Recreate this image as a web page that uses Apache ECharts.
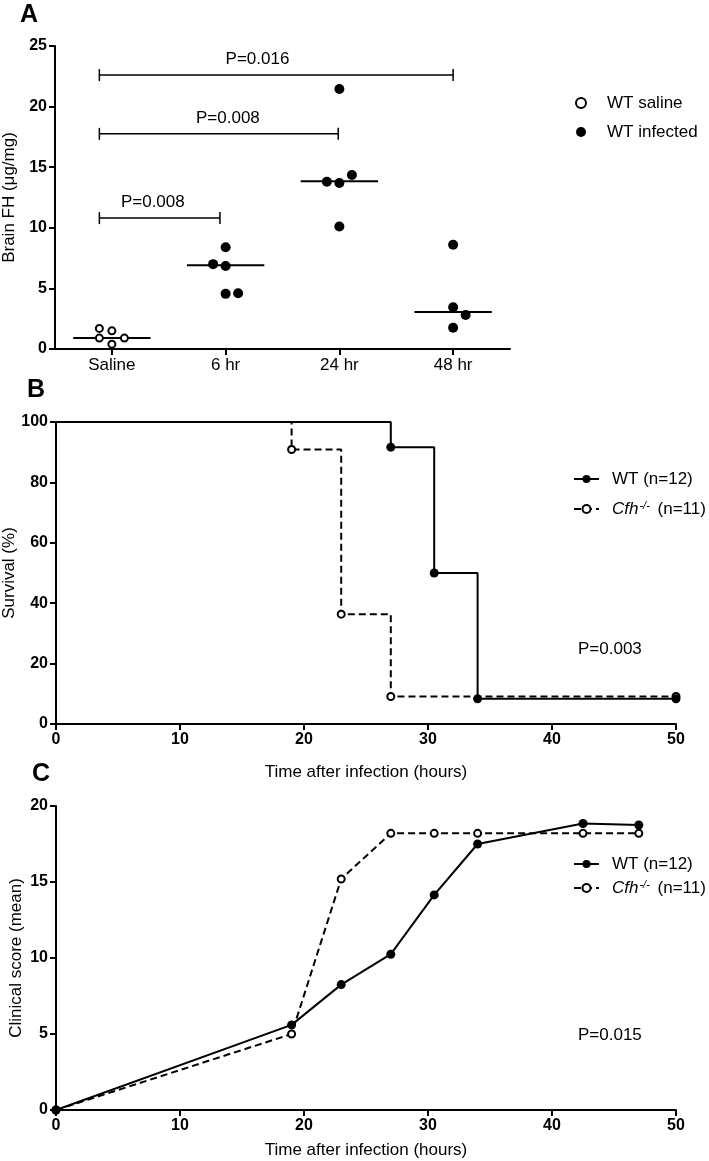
<!DOCTYPE html>
<html>
<head>
<meta charset="utf-8">
<script src="https://cdn.jsdelivr.net/npm/echarts@6/dist/echarts.min.js"></script>
<style>
  html, body { margin: 0; padding: 0; background: #fff; }
  #chart { width: 709px; height: 1161px; }
</style>
</head>
<body>
<div id="chart"></div>
<script>
// ---------- Panel A data ----------
const categoriesA = ['Saline', '6 hr', '24 hr', '48 hr'];
const salineValues = [1.7, 1.5, 0.9, 0.9, 0.4];
const salineJitter = [-0.11, 0, -0.11, 0.11, 0];
const inf6Values = [8.4, 7.0, 6.85, 4.55, 4.6];
const inf6Jitter = [0, -0.11, 0, 0, 0.11];
const inf24Values = [21.45, 13.8, 13.7, 14.35, 10.1];
const inf24Jitter = [0, -0.11, 0, 0.11, 0];
const inf48Values = [8.6, 3.45, 2.8, 1.75];
const inf48Jitter = [0, 0, 0.11, 0];
const mediansA = [0.9, 6.9, 13.85, 3.05];
const bracketStart = [-0.11, -0.11, -0.11];
const bracketEnd = [0.95, 1.99, 3.0];
const bracketY = [10.8, 17.75, 22.6];
const bracketLabelX = [0.36, 1.02, 1.28];
const bracketLabels = ['P=0.008', 'P=0.008', 'P=0.016'];

// ---------- Panel B data (survival) ----------
const wtSurvTime = [0, 27, 30.5, 34, 50];
const wtSurv = [100, 91.67, 50, 8.33, 8.33];
const cfhSurvTime = [0, 19, 23, 27, 50];
const cfhSurv = [100, 90.91, 36.36, 9.09, 9.09];

// ---------- Panel C data (clinical score) ----------
const scoreTime = [0, 19, 23, 27, 30.5, 34, 42.5, 47];
const wtScore = [0, 5.6, 8.25, 10.25, 14.15, 17.5, 18.85, 18.75];
const cfhScore = [0, 5.0, 15.2, 18.2, 18.2, 18.2, 18.2, 18.2];

const FONT = "'Liberation Sans', Arial, sans-serif";

const chart = echarts.init(document.getElementById('chart'), null, { renderer: 'canvas' });

function axisBase() {
  return {
    nameMoveOverlap: false,
    axisLine: { show: true, onZero: false, lineStyle: { color: '#000', width: 2 } },
    axisTick: { show: true, length: 6, lineStyle: { color: '#000', width: 2 } },
    axisLabel: { color: '#000', fontFamily: FONT, fontWeight: 'bold', fontSize: 16, margin: 8 },
    splitLine: { show: false },
    nameTextStyle: { color: '#000', fontFamily: FONT, fontSize: 17 }
  };
}

const jitterPts = (vals, jit, cat) => vals.map((v, i) => [cat + jit[i], v]);

const openItem = { color: '#fff', borderColor: '#000', borderWidth: 2, opacity: 1 };
const fillItem = { color: '#000', opacity: 1 };

const survData = (ts, ss) => ts.map((t, i) => i === 0 ? { value: [t, ss[i]], symbol: 'none' } : [t, ss[i]]);

function legendFmt(name) {
  if (name.indexOf('Cfh') === 0) return '{i|Cfh}{s|-/-}{n| (n=11)}';
  return '{n|WT (n=12)}';
}
function legendText() {
  return {
    color: '#000', fontFamily: FONT, fontSize: 17, lineHeight: 18, padding: [0, 0, 0, 8],
    rich: {
      n: { fontSize: 17, fontFamily: FONT, color: '#000', lineHeight: 18 },
      i: { fontStyle: 'italic', fontSize: 17, fontFamily: FONT, color: '#000', lineHeight: 18 },
      s: { fontStyle: 'italic', fontSize: 11, fontFamily: FONT, color: '#000', lineHeight: 11, verticalAlign: 'top', padding: [0, 3, 0, 1] }
    }
  };
}

const gridCommon = { containLabel: false, outerBoundsMode: 'none' };

const option = {
  animation: false,
  backgroundColor: '#fff',
  textStyle: { fontFamily: FONT },
  grid: [
    Object.assign({ left: 55, top: 46, width: 455, height: 303 }, gridCommon),
    Object.assign({ left: 56, top: 422, width: 620, height: 302 }, gridCommon),
    Object.assign({ left: 56, top: 806, width: 620, height: 304 }, gridCommon)
  ],
  xAxis: [
    Object.assign(axisBase(), {
      gridIndex: 0, type: 'value', min: -0.5, max: 3.5,
      axisTick: { show: true, length: 6, customValues: [0, 1, 2, 3], lineStyle: { color: '#000', width: 2 } },
      axisLabel: { customValues: [0, 1, 2, 3], color: '#000', fontFamily: FONT, fontSize: 17, margin: 8,
        formatter: v => categoriesA[Math.round(v)] }
    }),
    Object.assign(axisBase(), {
      gridIndex: 1, type: 'value', min: 0, max: 50, interval: 10,
      name: 'Time after infection (hours)', nameLocation: 'middle', nameGap: 40
    }),
    Object.assign(axisBase(), {
      gridIndex: 2, type: 'value', min: 0, max: 50, interval: 10,
      name: 'Time after infection (hours)', nameLocation: 'middle', nameGap: 32
    })
  ],
  yAxis: [
    Object.assign(axisBase(), {
      gridIndex: 0, type: 'value', min: 0, max: 25, interval: 5,
      name: 'Brain FH (μg/mg)', nameLocation: 'middle', nameGap: 37
    }),
    Object.assign(axisBase(), {
      gridIndex: 1, type: 'value', min: 0, max: 100, interval: 20,
      name: 'Survival (%)', nameLocation: 'middle', nameGap: 38
    }),
    Object.assign(axisBase(), {
      gridIndex: 2, type: 'value', min: 0, max: 20, interval: 5,
      name: 'Clinical score (mean)', nameLocation: 'middle', nameGap: 31
    })
  ],
  legend: [
    {
      data: ['WT saline', 'WT infected'], orient: 'vertical', left: 575, top: 94, padding: 0,
      itemWidth: 42, itemHeight: 10, itemGap: 11,
      textStyle: { color: '#000', fontFamily: FONT, fontSize: 17, lineHeight: 18 }
    },
    {
      data: ['WT (n=12)', 'Cfh (n=11)'], orient: 'vertical', left: 573, top: 470, padding: 0,
      itemWidth: 25, itemHeight: 10, itemGap: 12,
      formatter: legendFmt,
      textStyle: legendText()
    },
    {
      data: ['WT (n=12) ', 'Cfh (n=11) '], orient: 'vertical', left: 573, top: 855, padding: 0,
      itemWidth: 25, itemHeight: 10, itemGap: 6,
      formatter: legendFmt,
      textStyle: legendText()
    }
  ],
  graphic: [
    { type: 'text', left: 20, top: 3, style: { text: 'A', font: "bold 25px " + FONT, fill: '#000' } },
    { type: 'text', left: 27, top: 378, style: { text: 'B', font: "bold 25px " + FONT, fill: '#000' } },
    { type: 'text', left: 32, top: 762, style: { text: 'C', font: "bold 25px " + FONT, fill: '#000' } },
    { type: 'text', left: 578, top: 641, style: { text: 'P=0.003', font: "17px " + FONT, fill: '#000' } },
    { type: 'text', left: 578, top: 1027, style: { text: 'P=0.015', font: "17px " + FONT, fill: '#000' } }
  ],
  series: [
    // Panel A
    {
      name: 'WT saline', type: 'scatter', xAxisIndex: 0, yAxisIndex: 0,
      symbol: 'circle', symbolSize: 7, itemStyle: openItem,
      data: jitterPts(salineValues, salineJitter, 0), z: 5
    },
    {
      name: 'WT infected', type: 'scatter', xAxisIndex: 0, yAxisIndex: 0,
      symbol: 'circle', symbolSize: 10, itemStyle: fillItem,
      data: [].concat(jitterPts(inf6Values, inf6Jitter, 1), jitterPts(inf24Values, inf24Jitter, 2), jitterPts(inf48Values, inf48Jitter, 3)),
      z: 5
    },
    ...mediansA.map((m, i) => ({
      type: 'line', xAxisIndex: 0, yAxisIndex: 0, symbol: 'none', silent: true,
      lineStyle: { color: '#000', width: 2 },
      data: [[i - 0.34, m], [i + 0.34, m]], z: 4
    })),
    {
      type: 'custom', xAxisIndex: 0, yAxisIndex: 0, silent: true,
      data: bracketStart.map((s, i) => [s, bracketEnd[i], bracketY[i], bracketLabelX[i]]),
      encode: { x: [0, 1, 3], y: 2 },
      renderItem: (params, api) => {
        const p1 = api.coord([api.value(0), api.value(2)]);
        const p2 = api.coord([api.value(1), api.value(2)]);
        const pl = api.coord([api.value(3), api.value(2)]);
        const st = { stroke: '#000', lineWidth: 1.5 };
        return {
          type: 'group',
          children: [
            { type: 'line', shape: { x1: p1[0], y1: p1[1], x2: p2[0], y2: p2[1] }, style: st },
            { type: 'line', shape: { x1: p1[0], y1: p1[1] - 6, x2: p1[0], y2: p1[1] + 6 }, style: st },
            { type: 'line', shape: { x1: p2[0], y1: p2[1] - 6, x2: p2[0], y2: p2[1] + 6 }, style: st },
            { type: 'text', x: pl[0], y: p1[1] - 16,
              style: { text: bracketLabels[params.dataIndex], font: '17px ' + FONT, fill: '#000', align: 'center', verticalAlign: 'middle' } }
          ]
        };
      }
    },
    // Panel B
    {
      name: 'Cfh (n=11)', type: 'line', xAxisIndex: 1, yAxisIndex: 1, step: 'end',
      symbol: 'circle', symbolSize: 7, itemStyle: openItem,
      lineStyle: { color: '#000', width: 2, type: [7, 4] },
      data: survData(cfhSurvTime, cfhSurv), z: 3
    },
    {
      name: 'WT (n=12)', type: 'line', xAxisIndex: 1, yAxisIndex: 1, step: 'end',
      symbol: 'circle', symbolSize: 9, itemStyle: fillItem,
      lineStyle: { color: '#000', width: 2 },
      data: survData(wtSurvTime, wtSurv), z: 4
    },
    // Panel C
    {
      name: 'Cfh (n=11) ', type: 'line', xAxisIndex: 2, yAxisIndex: 2,
      symbol: 'circle', symbolSize: 7, itemStyle: openItem,
      lineStyle: { color: '#000', width: 2, type: [7, 4] },
      data: scoreTime.map((t, i) => [t, cfhScore[i]]), z: 3
    },
    {
      name: 'WT (n=12) ', type: 'line', xAxisIndex: 2, yAxisIndex: 2,
      symbol: 'circle', symbolSize: 9, itemStyle: fillItem,
      lineStyle: { color: '#000', width: 2 },
      data: scoreTime.map((t, i) => [t, wtScore[i]]), z: 4
    }
  ]
};

chart.setOption(option);
</script>
</body>
</html>
